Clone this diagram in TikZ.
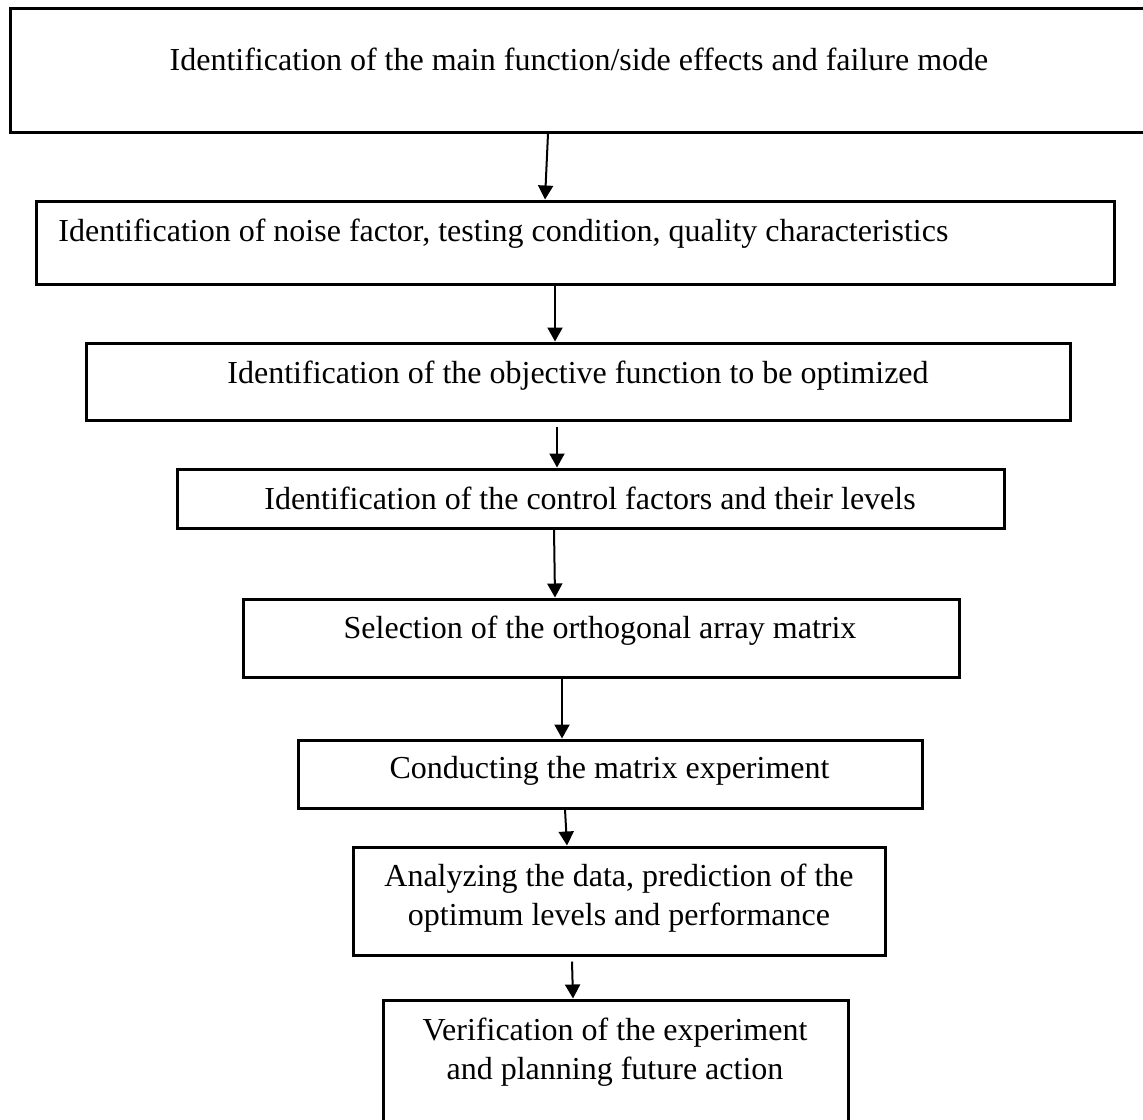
\documentclass[tikz,border=0pt]{standalone}
\usepackage{fontspec}
\setmainfont{Liberation Serif}
\usetikzlibrary{arrows.meta}
\begin{document}
\begin{tikzpicture}[x=0.5pt,y=-0.5pt,
		box/.style={draw,line width=1.5pt,inner sep=0pt},
		txt/.style={inner sep=0pt,align=center,font=\fontsize{16}{19.5}\selectfont},
		arr/.style={line width=1pt,-{Triangle[width=7.5pt,length=7pt]}}]
		\useasboundingbox (0,0) rectangle (1143,1119);
		\clip (0,0) rectangle (1143,1119);
		% boxes
		\node[box,minimum width=575pt,minimum height=62pt] (b1) at (585,70) {};
		\node[box,minimum width=539pt,minimum height=41.5pt] (b2) at (575,242.5) {};
		\node[box,minimum width=492pt,minimum height=38.5pt] (b3) at (578,381.5) {};
		\node[box,minimum width=413.5pt,minimum height=29.5pt] (b4) at (590.5,498.5) {};
		\node[box,minimum width=358pt,minimum height=39pt] (b5) at (601,638) {};
		\node[box,minimum width=312pt,minimum height=34pt] (b6) at (610,774) {};
		\node[box,minimum width=266pt,minimum height=54pt] (b7) at (619,901) {};
		\node[box,minimum width=232.5pt,minimum height=67.5pt] (b8) at (615.5,1067.5) {};
		% texts
		\node[txt,anchor=base] (t1) at (579,70) {Identification of the main function/side effects and failure mode};
		\node[txt,anchor=base west] (t2) at (58,241) {Identification of noise factor, testing condition, quality characteristics};
		\node[txt,anchor=base] (t3) at (578,383) {Identification of the objective function to be optimized};
		\node[txt,anchor=base] (t4) at (590,509) {Identification of the control factors and their levels};
		\node[txt,anchor=base] (t5) at (600,638) {Selection of the orthogonal array matrix};
		\node[txt,anchor=base] (t6) at (609.5,778) {Conducting the matrix experiment};
		\node[txt] (t7) at (619,898.5) {Analyzing the data, prediction of the\\optimum levels and performance};
		\node[txt] (t8) at (615,1052.5) {Verification of the experiment\\and planning future action};
		% arrows
		\draw[arr] ([xshift=-18.5pt]b1.south) -- ([xshift=-15pt]b2.north);
		\draw[arr] ([xshift=-10pt]b2.south) -- ([xshift=-11.5pt]b3.north);
		\draw[arr] ([xshift=-10.5pt,yshift=-2.5pt]b3.south) -- ([xshift=-16.75pt]b4.north);
		\draw[arr] ([xshift=-18.25pt]b4.south) -- ([xshift=-23pt]b5.north);
		\draw[arr] ([xshift=-19.5pt]b5.south) -- ([xshift=-24pt]b6.north);
		\draw[arr] ([xshift=-22.5pt]b6.south) -- ([xshift=-26pt]b7.north);
		\draw[arr] ([xshift=-23.5pt,yshift=-2.5pt]b7.south) -- ([xshift=-21.25pt]b8.north);
\end{tikzpicture}
\end{document}
